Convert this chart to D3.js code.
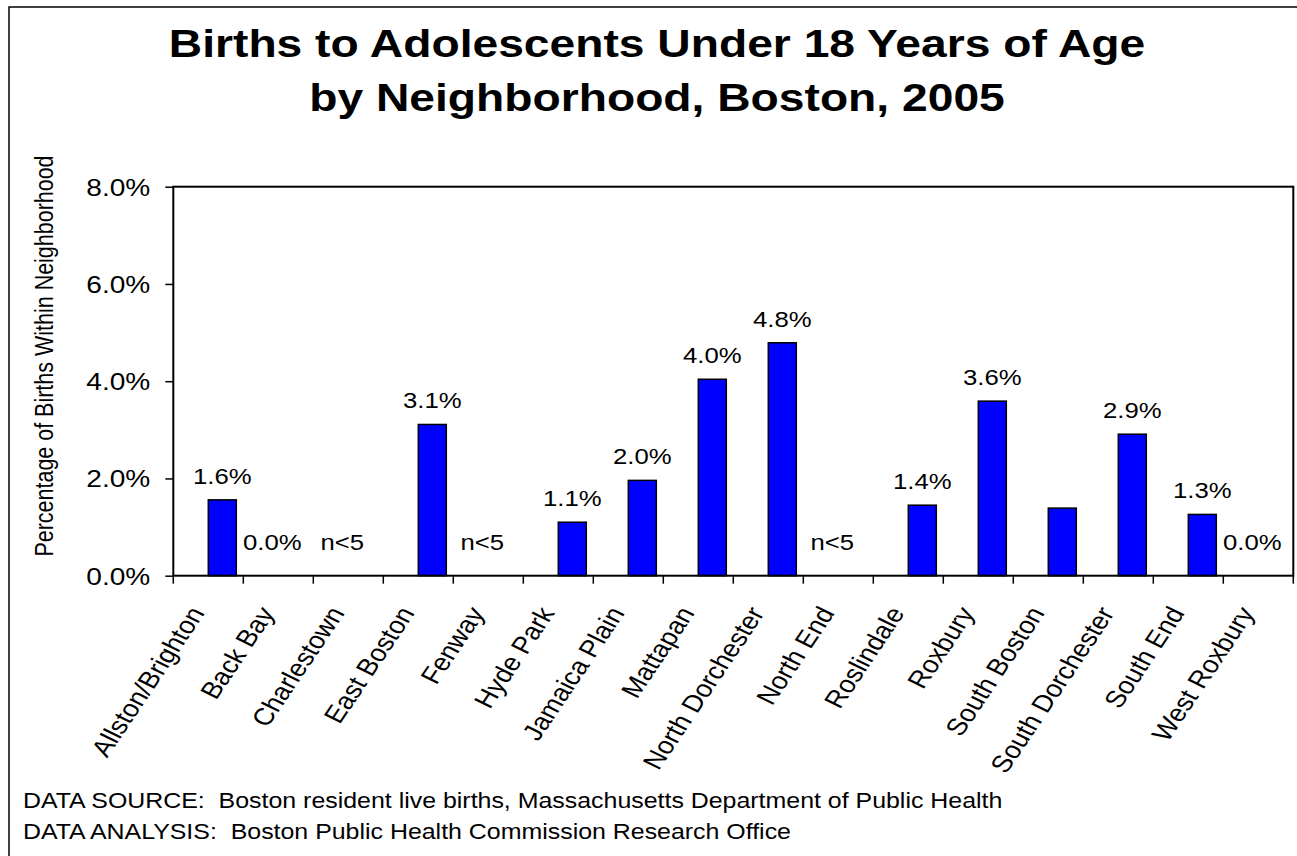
<!DOCTYPE html>
<html>
<head>
<meta charset="utf-8">
<script src="https://cdn.jsdelivr.net/npm/d3@7"></script>
<style>
    body { margin: 0; background: #fff; }
    text { font-family: "Liberation Sans", Arial, sans-serif; fill: #000; white-space: pre; }
</style>
</head>
<body>
<svg id="chart" width="1297" height="856"></svg>
<script>
// data
var neighborhoods = ["Allston/Brighton", "Back Bay", "Charlestown", "East Boston", "Fenway",
    "Hyde Park", "Jamaica Plain", "Mattapan", "North Dorchester", "North End", "Roslindale",
    "Roxbury", "South Boston", "South Dorchester", "South End", "West Roxbury"];
var pctValues = [1.56, 0, null, 3.11, null, 1.10, 1.96, 4.04, 4.79, null, 1.45, 3.59, 1.39, 2.91, 1.26, 0];
var barLabels = ["1.6%", "0.0%", "n<5", "3.1%", "n<5", "1.1%", "2.0%", "4.0%", "4.8%", "n<5",
    "1.4%", "3.6%", "", "2.9%", "1.3%", "0.0%"];
var yTicks = [0, 2, 4, 6, 8];
var titleLines = ["Births to Adolescents Under 18 Years of Age", "by Neighborhood, Boston, 2005"];
var footerLines = ["DATA SOURCE:  Boston resident live births, Massachusetts Department of Public Health",
    "DATA ANALYSIS:  Boston Public Health Commission Research Office"];

var SX = 1.17; // the original picture is stretched sideways a bit

var svg = d3.select("#chart");

var plot = { left: 173.3, right: 1293.3, top: 186.7, bottom: 575.7 };

var x = d3.scaleBand()
    .domain(neighborhoods)
    .range([plot.left, plot.right])
    .paddingInner(0)
    .paddingOuter(0);

var y = d3.scaleLinear()
    .domain([0, 8])
    .range([plot.bottom, plot.top]);

// outer frame
svg.append("rect")
    .attr("x", 9).attr("y", 7)
    .attr("width", 1300).attr("height", 860)
    .attr("fill", "none")
    .attr("stroke", "#000")
    .attr("stroke-width", 1.5);

// title
svg.selectAll(".title")
    .data(titleLines)
    .enter()
    .append("text")
    .attr("class", "title")
    .attr("transform", (d, i) => `translate(657, ${56.7 + i * 54}) scale(${SX},1)`)
    .attr("text-anchor", "middle")
    .attr("font-size", "39.5px")
    .attr("font-weight", "bold")
    .text(d => d);

// bars
svg.selectAll(".bar")
    .data(neighborhoods.map((n, i) => ({ name: n, v: pctValues[i], label: barLabels[i] })))
    .enter()
    .filter(d => d.v)
    .append("rect")
    .attr("class", "bar")
    .attr("x", d => x(d.name) + x.bandwidth() / 2)
    .attr("y", d => y(d.v))
    .attr("width", x.bandwidth() * 0.4)
    .attr("height", d => y(0) - y(d.v))
    .attr("fill", "#0000ff")
    .attr("stroke", "#000")
    .attr("stroke-width", 1.5);

// plot frame
svg.append("rect")
    .attr("x", plot.left).attr("y", plot.top)
    .attr("width", plot.right - plot.left)
    .attr("height", plot.bottom - plot.top)
    .attr("fill", "none")
    .attr("stroke", "#000")
    .attr("stroke-width", 2);

// y axis
var yAxis = svg.append("g")
    .attr("transform", `translate(${plot.left},0)`)
    .call(d3.axisLeft(y).tickValues(yTicks).tickSize(8).tickPadding(15)
        .tickFormat(d => d.toFixed(1) + "%"));
yAxis.select(".domain").remove();
yAxis.selectAll(".tick line").attr("stroke", "#000").attr("stroke-width", 1.5);
yAxis.selectAll(".tick text")
    .attr("font-size", "24px")
    .attr("font-family", null)
    .attr("dy", "0.35em")
    .attr("transform", function () {
        var tx = +d3.select(this).attr("x");
        return `translate(${tx},0) scale(${SX},1) translate(${-tx},0)`;
    });

// x ticks at category borders
svg.selectAll(".xtick")
    .data(neighborhoods.concat(["end"]))
    .enter()
    .append("line")
    .attr("class", "xtick")
    .attr("x1", (d, i) => plot.left + i * x.bandwidth())
    .attr("x2", (d, i) => plot.left + i * x.bandwidth())
    .attr("y1", plot.bottom)
    .attr("y2", plot.bottom + 8)
    .attr("stroke", "#000")
    .attr("stroke-width", 1.5);

// category labels
svg.selectAll(".xlabel")
    .data(neighborhoods)
    .enter()
    .append("text")
    .attr("class", "xlabel")
    .attr("transform", d => `translate(${x(d) + x.bandwidth() / 2 - 3}, 613) scale(${SX},1) rotate(-60)`)
    .attr("text-anchor", "end")
    .attr("font-size", "24px")
    .text(d => d);

// value labels
svg.selectAll(".vlabel")
    .data(neighborhoods.map((n, i) => ({ name: n, v: pctValues[i], label: barLabels[i] })))
    .enter()
    .append("text")
    .attr("class", "vlabel")
    .attr("transform", d => {
        var cx, cy;
        if (d.v) {
            cx = x(d.name) + x.bandwidth() * 0.7;
            cy = y(d.v) - 16;
        } else {
            cx = x(d.name) + x.bandwidth() / 2 - 6;
            cy = y(0) - 25.5;
        }
        return `translate(${cx}, ${cy}) scale(${SX},1)`;
    })
    .attr("text-anchor", "middle")
    .attr("font-size", "22px")
    .text(d => d.label);

// y axis title
svg.append("text")
    .attr("transform", `translate(53, 356) scale(${SX},1) rotate(-90)`)
    .attr("text-anchor", "middle")
    .attr("font-size", "21.5px")
    .text("Percentage of Births Within Neighborhood");

// footer
svg.selectAll(".footer")
    .data(footerLines)
    .enter()
    .append("text")
    .attr("class", "footer")
    .attr("transform", (d, i) => `translate(23, ${808 + i * 30.5}) scale(${SX},1)`)
    .attr("font-size", "21.3px")
    .text(d => d);
</script>
</body>
</html>
